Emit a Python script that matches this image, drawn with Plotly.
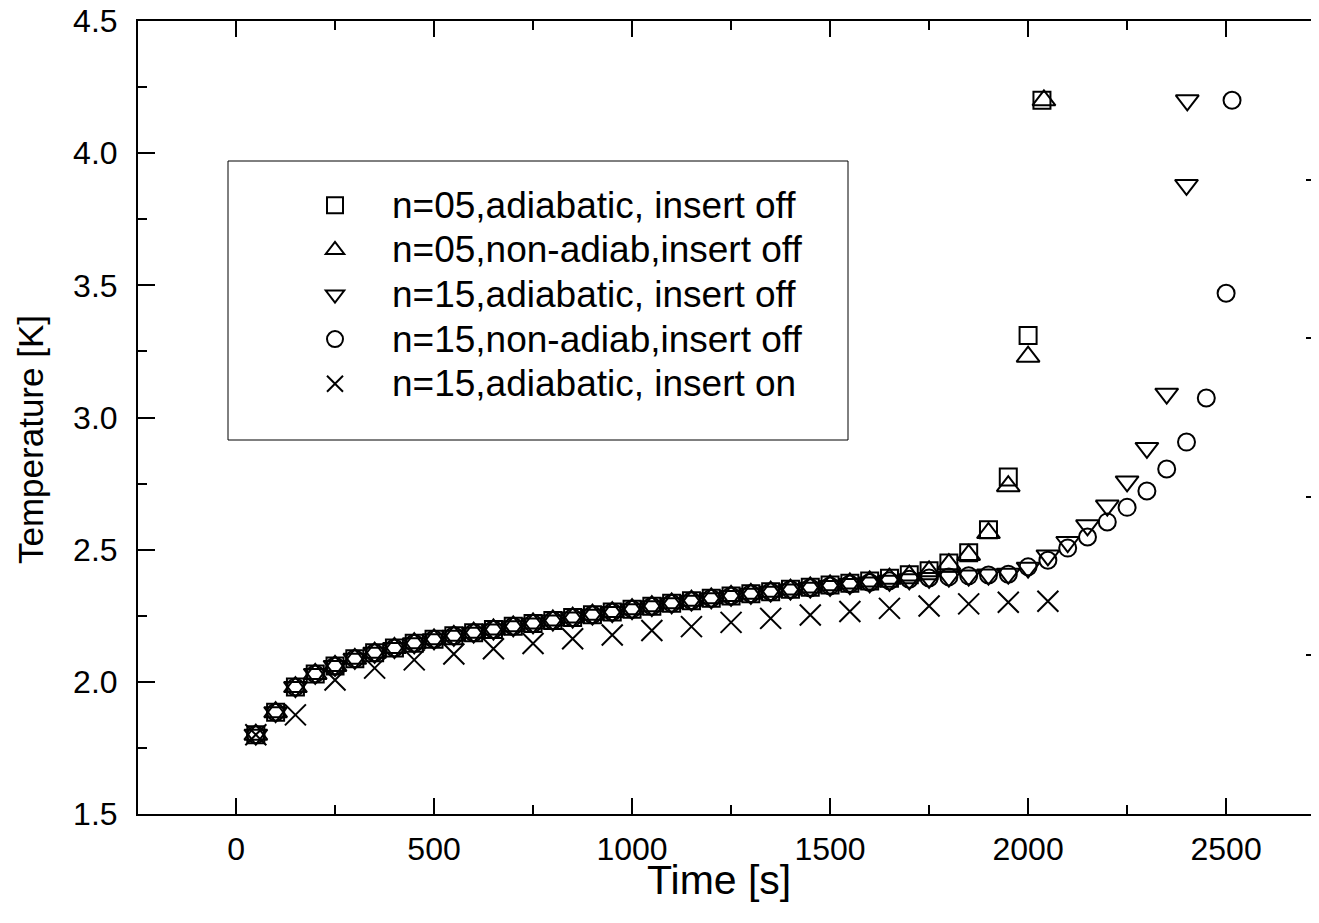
import plotly.graph_objects as go

# n=05, adiabatic, insert off (squares)
t_sq = [50, 100, 150, 200, 250, 300, 350, 400, 450, 500, 550, 600, 650, 700, 750, 800,
        850, 900, 950, 1000, 1050, 1100, 1150, 1200, 1250, 1300, 1350, 1400, 1450, 1500,
        1550, 1600, 1650, 1700, 1750, 1800, 1850, 1900, 1950, 2000, 2035]
T_sq = [1.80, 1.885, 1.98, 2.03, 2.06, 2.087, 2.11, 2.128, 2.146, 2.161, 2.174, 2.186,
        2.198, 2.210, 2.221, 2.232, 2.243, 2.254, 2.264, 2.275, 2.286, 2.297, 2.307, 2.316,
        2.325, 2.333, 2.341, 2.350, 2.358, 2.366, 2.373, 2.381, 2.392, 2.405, 2.420, 2.450,
        2.488, 2.575, 2.775, 3.31, 4.20]

# n=05, non-adiab, insert off (up triangles)
t_up = [50, 100, 150, 200, 250, 300, 350, 400, 450, 500, 550, 600, 650, 700, 750, 800,
        850, 900, 950, 1000, 1050, 1100, 1150, 1200, 1250, 1300, 1350, 1400, 1450, 1500,
        1550, 1600, 1650, 1700, 1750, 1800, 1850, 1900, 1950, 2000, 2040]
T_up = [1.80, 1.885, 1.98, 2.03, 2.06, 2.087, 2.11, 2.128, 2.146, 2.161, 2.174, 2.186,
        2.198, 2.210, 2.221, 2.232, 2.243, 2.254, 2.264, 2.275, 2.286, 2.297, 2.307, 2.316,
        2.325, 2.333, 2.341, 2.349, 2.357, 2.365, 2.372, 2.380, 2.390, 2.402, 2.418, 2.445,
        2.480, 2.563, 2.740, 3.23, 4.20]

# n=15, adiabatic, insert off (down triangles)
t_dn = [50, 100, 150, 200, 250, 300, 350, 400, 450, 500, 550, 600, 650, 700, 750, 800,
        850, 900, 950, 1000, 1050, 1100, 1150, 1200, 1250, 1300, 1350, 1400, 1450, 1500,
        1550, 1600, 1650, 1700, 1750, 1800, 1850, 1900, 1950, 2000, 2050, 2100, 2150, 2200,
        2250, 2300, 2350, 2400, 2402]
T_dn = [1.80, 1.885, 1.98, 2.03, 2.06, 2.087, 2.11, 2.128, 2.146, 2.161, 2.174, 2.186,
        2.198, 2.210, 2.221, 2.232, 2.243, 2.254, 2.264, 2.275, 2.286, 2.297, 2.307, 2.316,
        2.325, 2.333, 2.341, 2.349, 2.356, 2.363, 2.370, 2.376, 2.382, 2.388, 2.393, 2.398,
        2.402, 2.406, 2.409, 2.432, 2.478, 2.529, 2.592, 2.667, 2.758, 2.885, 3.09, 3.88,
        4.20]

# n=15, non-adiab, insert off (circles)
t_ci = [50, 100, 150, 200, 250, 300, 350, 400, 450, 500, 550, 600, 650, 700, 750, 800,
        850, 900, 950, 1000, 1050, 1100, 1150, 1200, 1250, 1300, 1350, 1400, 1450, 1500,
        1550, 1600, 1650, 1700, 1750, 1800, 1850, 1900, 1950, 2000, 2050, 2100, 2150, 2200,
        2250, 2300, 2350, 2400, 2450, 2500, 2515]
T_ci = [1.80, 1.885, 1.98, 2.03, 2.06, 2.087, 2.11, 2.128, 2.146, 2.161, 2.174, 2.186,
        2.198, 2.210, 2.221, 2.232, 2.243, 2.254, 2.264, 2.275, 2.286, 2.297, 2.307, 2.316,
        2.325, 2.333, 2.341, 2.349, 2.356, 2.363, 2.370, 2.376, 2.382, 2.388, 2.393, 2.397,
        2.401, 2.404, 2.407, 2.435, 2.460, 2.506, 2.548, 2.605, 2.660, 2.722, 2.805, 2.907,
        3.074, 3.47, 4.20]

# n=15, adiabatic, insert on (crosses)
t_x = [50, 150, 250, 350, 450, 550, 650, 750, 850, 950, 1050, 1150, 1250, 1350, 1450,
       1550, 1650, 1750, 1850, 1950, 2050]
T_x = [1.80, 1.875, 2.007, 2.052, 2.083, 2.105, 2.125, 2.145, 2.163, 2.177, 2.194, 2.209,
       2.225, 2.240, 2.253, 2.266, 2.278, 2.287, 2.295, 2.301, 2.305]

series = [
    ("n=05,adiabatic, insert off", t_sq, T_sq, "square-open", 17),
    ("n=05,non-adiab,insert off", t_up, T_up, "triangle-up-open", 20),
    ("n=15,adiabatic, insert off", t_dn, T_dn, "triangle-down-open", 20),
    ("n=15,non-adiab,insert off", t_ci, T_ci, "circle-open", 17),
    ("n=15,adiabatic, insert on", t_x, T_x, "x-thin-open", 21),
]

FONT = "Liberation Sans, Arial, sans-serif"

# page body has an 8px margin, so the figure is laid out 8px in from the corner;
# the right frame edge sits just past the window, as in the original
W, H = 1330, 900
L, T, B = 130, 13, 94
PW, PH = W - L, H - T - B
X_RIGHT = (8 + W - 236) / 0.39604


def px(x_win):
    return (x_win - 8 - L) / PW


def py(y_win):
    return 1 - (y_win - 8 - T) / PH


fig = go.Figure()
for name, tx, ty, sym, size in series:
    fig.add_trace(
        go.Scatter(
            x=tx,
            y=ty,
            mode="markers",
            # legend rows are spaced by the legend font; the label itself is drawn larger
            name='<span style="font-size:37px">' + name + "</span>",
            marker={"symbol": sym, "size": size, "color": "black",
                    "line": {"color": "black", "width": 2}},
        )
    )

# invisible trace so the right-hand tick axis gets drawn
fig.add_trace(go.Scatter(x=[-1000], y=[0], yaxis="y2", mode="markers",
                         marker={"opacity": 0}, showlegend=False, hoverinfo="skip"))

fig.update_layout(
    template="none",
    width=W,
    height=H,
    margin={"l": L, "r": 0, "t": T, "b": B, "pad": 0},
    paper_bgcolor="white",
    plot_bgcolor="white",
    font={"family": FONT, "size": 32, "color": "black"},
    showlegend=True,
    legend={
        "x": px(278),
        "y": py(178),
        "xanchor": "left",
        "yanchor": "top",
        "bgcolor": "rgba(0,0,0,0)",
        "borderwidth": 0,
        "font": {"family": FONT, "size": 32},
        "tracegroupgap": 0,
        "itemwidth": 104,
    },
    xaxis={
        "range": [-247.5, X_RIGHT],
        "automargin": False,
        "showgrid": False,
        "zeroline": False,
        "showline": True,
        "linecolor": "black",
        "linewidth": 2,
        "mirror": "ticks",
        "ticks": "inside",
        "ticklen": 16,
        "tickwidth": 2,
        "tickcolor": "black",
        "tick0": 0,
        "dtick": 500,
        "minor": {"dtick": 250, "ticks": "inside", "ticklen": 9, "tickwidth": 2,
                  "tickcolor": "black"},
        "tickfont": {"size": 32},
        "ticklabelstandoff": 6,
    },
    yaxis={
        "range": [1.5, 4.5],
        "automargin": False,
        "showgrid": False,
        "zeroline": False,
        "showline": True,
        "mirror": False,
        "linecolor": "black",
        "linewidth": 2,
        "ticks": "inside",
        "ticklen": 17,
        "tickwidth": 2,
        "tickcolor": "black",
        "tick0": 1.5,
        "dtick": 0.5,
        "tickformat": ".1f",
        "ticklabeloverflow": "allow",
        "minor": {"dtick": 0.25, "ticks": "inside", "ticklen": 9, "tickwidth": 2,
                  "tickcolor": "black"},
        "tickfont": {"size": 32},
        "ticklabelstandoff": 12,
    },
    yaxis2={
        "range": [1.5, 4.5],
        "automargin": False,
        "overlaying": "y",
        "side": "right",
        "anchor": "x",
        "showgrid": False,
        "zeroline": False,
        "showline": False,
        "showticklabels": False,
        "ticks": "inside",
        "ticklen": 32,
        "tickwidth": 2,
        "tickcolor": "black",
        "tick0": 1.5,
        "dtick": 0.6,
        "minor": {"dtick": 0.3, "ticks": "inside", "ticklen": 24, "tickwidth": 2,
                  "tickcolor": "black"},
    },
    annotations=[
        {"text": "Time [s]", "xref": "paper", "yref": "paper", "x": px(719), "y": py(880),
         "xanchor": "center", "yanchor": "middle", "showarrow": False,
         "font": {"family": FONT, "size": 41}},
        {"text": "Temperature [K]", "xref": "paper", "yref": "paper", "x": px(30),
         "y": py(440), "xanchor": "center", "yanchor": "middle", "showarrow": False,
         "textangle": -90, "font": {"family": FONT, "size": 35}},
    ],
    shapes=[
        {"type": "rect", "xref": "paper", "yref": "paper",
         "x0": px(228), "x1": px(848), "y0": py(440), "y1": py(161),
         "line": {"color": "black", "width": 1}, "fillcolor": "rgba(0,0,0,0)",
         "layer": "below"},
    ],
)

fig.write_html("out.html")
